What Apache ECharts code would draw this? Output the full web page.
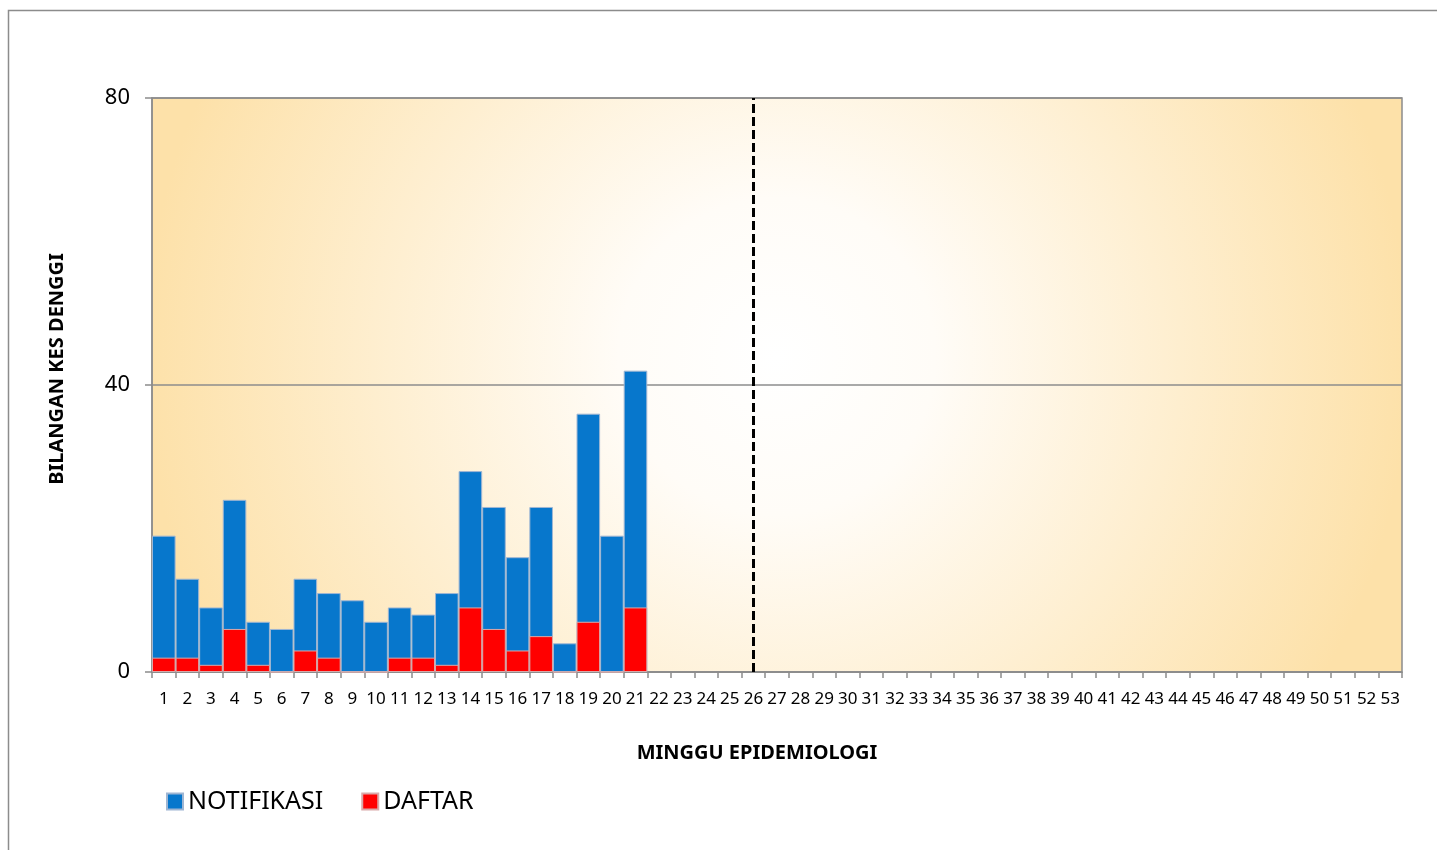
<!DOCTYPE html>
<html><head><meta charset="utf-8">
<script src="https://cdn.jsdelivr.net/npm/echarts@6/dist/echarts.min.js"></script>
<style>html,body{margin:0;padding:0;background:#fff}#c{width:1437px;height:850px}</style>
</head><body><div id="c"></div>
<script>
const weeks = [];
for (let i = 1; i <= 53; i++) weeks.push(String(i));
const notifikasi = [19,13,9,24,7,6,13,11,10,7,9,8,11,28,23,16,23,4,36,19,42];
const daftar = [2,2,1,6,1,0,3,2,0,0,2,2,1,9,6,3,5,0,7,0,9];
const yTicks = [0, 40, 80];
const markWeek = '26';

const FONT = '"Noto Sans", sans-serif';
const chart = echarts.init(document.getElementById('c'));
chart.setOption({
  animation: false,
  graphic: [{
    type: 'rect', z: -10, silent: true,
    shape: { x: 8.5, y: 10.5, width: 1500, height: 900 },
    style: { fill: 'none', stroke: '#8c8c8c', lineWidth: 1.5 }
  }],
  legend: {
    left: 161, top: 784, icon: 'rect', itemWidth: 16, itemHeight: 16, itemGap: 38,
    textStyle: { fontFamily: FONT, fontSize: 25, color: '#000' },
    data: ['NOTIFIKASI', 'DAFTAR']
  },
  grid: {
    left: 152, right: 35, top: 98, bottom: 178, show: true,
    borderColor: '#8c8c8c', borderWidth: 1.5,
    backgroundColor: {
      type: 'radial', x: 0.5, y: 0.45, r: 1.1,
      colorStops: [
        { offset: 0, color: '#ffffff' },
        { offset: 0.25, color: '#fffcf7' },
        { offset: 1, color: '#fde1a9' }
      ]
    }
  },
  xAxis: {
    type: 'category', data: weeks,
    name: 'MINGGU EPIDEMIOLOGI', nameLocation: 'middle', nameGap: 71,
    nameTextStyle: { fontFamily: FONT, fontSize: 20, fontWeight: 'bold', color: '#000', padding: [0, 40, 0, 0] },
    axisLine: { lineStyle: { color: '#8c8c8c', width: 1.5 } },
    axisTick: { show: true, alignWithLabel: false, interval: 0, length: 6, lineStyle: { color: '#8c8c8c', width: 1.5 } },
    axisLabel: { interval: 0, fontFamily: FONT, fontSize: 17, color: '#000', margin: 19 },
    splitLine: { show: false }
  },
  yAxis: {
    type: 'value', min: yTicks[0], max: yTicks[2], interval: yTicks[1] - yTicks[0],
    name: 'BILANGAN KES DENGGI', nameLocation: 'middle', nameGap: 85, nameRotate: 90,
    nameTextStyle: { fontFamily: FONT, fontSize: 20, fontWeight: 'bold', color: '#000', padding: [0, 0, 0, 32] },
    axisLine: { show: true, lineStyle: { color: '#8c8c8c', width: 1.5 } },
    axisTick: { show: true, length: 7, lineStyle: { color: '#8c8c8c', width: 1.5 } },
    axisLabel: { fontFamily: FONT, fontSize: 22, color: '#000', margin: 22 },
    splitLine: { show: true, lineStyle: { color: '#8c8c8c', width: 1.5 } }
  },
  series: [
    {
      name: 'NOTIFIKASI', type: 'bar', data: notifikasi,
      barCategoryGap: '0%', barGap: '-100%',
      itemStyle: { color: '#0777cc', borderColor: '#9fb6d3', borderWidth: 1 },
      markLine: {
        silent: true, symbol: 'none', label: { show: false },
        lineStyle: { color: '#000', type: [9, 4], width: 3 },
        data: [{ xAxis: markWeek }]
      }
    },
    {
      name: 'DAFTAR', type: 'bar', data: daftar,
      barCategoryGap: '0%', barGap: '-100%',
      itemStyle: { color: '#ff0000', borderColor: '#d9a9a9', borderWidth: 1 }
    }
  ]
});
</script></body></html>
